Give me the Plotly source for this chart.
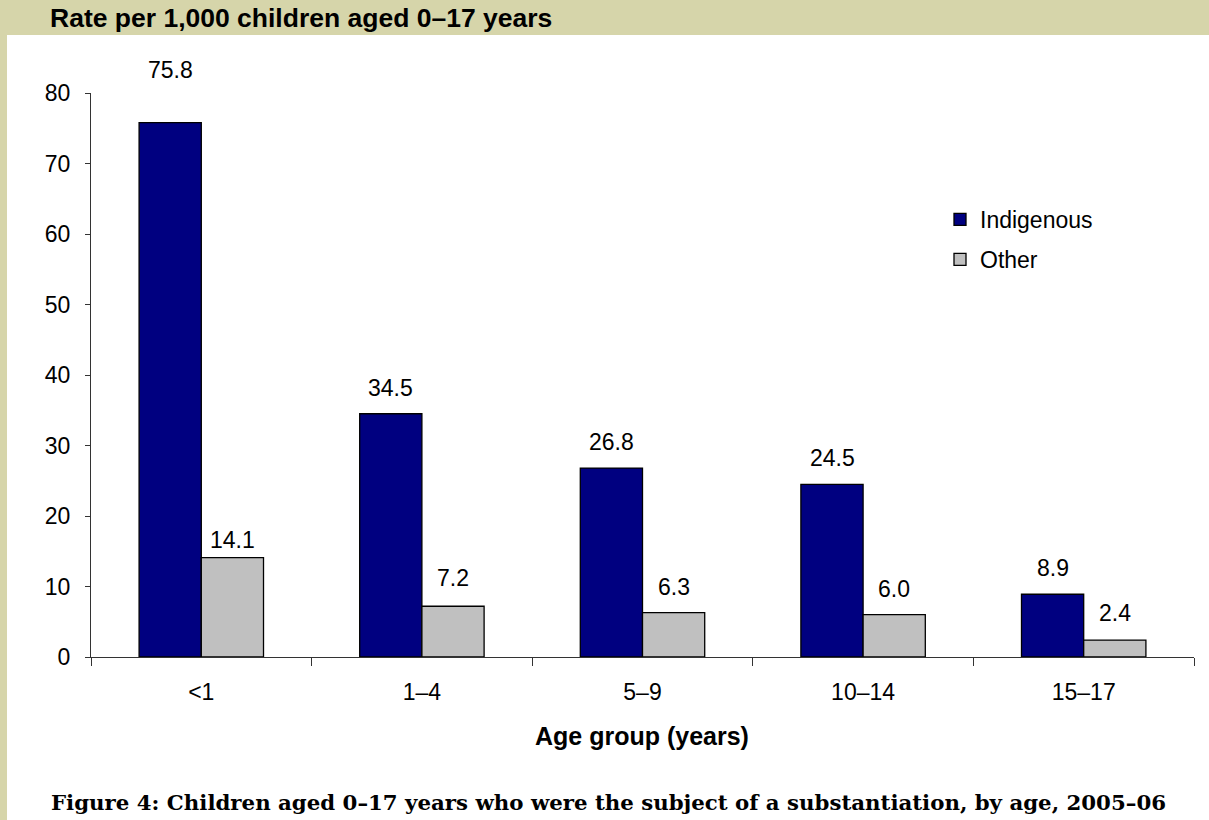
import plotly.graph_objects as go

# Substantiation rates per 1,000 children, 2005-06
age_groups = ["<1", "1–4", "5–9", "10–14", "15–17"]
indigenous = [75.8, 34.5, 26.8, 24.5, 8.9]
other = [14.1, 7.2, 6.3, 6.0, 2.4]
y_ticks = [0, 10, 20, 30, 40, 50, 60, 70, 80]

# vertical gap (px) between each bar top and its value label
lift_indigenous = [53, 26, 26, 26, 26]
lift_other = [18, 28, 26, 26, 27]

SANS = "Liberation Sans, Arial, sans-serif"
SERIF = "DejaVu Serif, Liberation Serif, serif"
BEIGE = "#D6D5AA"
FS = 23

W, H = 1209, 820
ML, MR, MT, MB = 91, 15, 93, 163
pw, ph = W - ML - MR, H - MT - MB


def px_x(px):
    return (px - ML) / pw


def px_y(py):
    return (H - MB - py) / ph


fig = go.Figure()
fig.add_trace(go.Bar(
    name="Indigenous", x=age_groups, y=indigenous, legendgroup="ind",
    marker=dict(color="#000080", line=dict(color="#000000", width=1.3)),
))
fig.add_trace(go.Bar(
    name="Other", x=age_groups, y=other, legendgroup="oth",
    marker=dict(color="#C0C0C0", line=dict(color="#000000", width=1.3)),
))

# value labels above each bar
annotations = []
for series, lifts, shift in ((indigenous, lift_indigenous, -31), (other, lift_other, 31)):
    for cat, val, lift in zip(age_groups, series, lifts):
        annotations.append(dict(
            x=cat, y=val, xref="x", yref="y", text=f"{val:.1f}",
            showarrow=False, xshift=shift, yshift=lift, yanchor="middle",
            font=dict(family=SANS, size=FS, color="#000000"),
        ))

# header text and caption
annotations.append(dict(
    x=px_x(48), y=px_y(18), xref="paper", yref="paper",
    text="<b>Rate per 1,000 children aged 0–17 years</b>",
    showarrow=False, xanchor="left", yanchor="middle",
    font=dict(family=SANS, size=26.5, color="#000000"),
))
annotations.append(dict(
    x=px_x(608), y=px_y(802), xref="paper", yref="paper",
    text="<b>Figure 4: Children aged 0–17 years who were the subject of a substantiation, by age, 2005–06</b>",
    showarrow=False, xanchor="center", yanchor="middle",
    font=dict(family=SERIF, size=21.3, color="#000000"),
))
# x-axis title
annotations.append(dict(
    x=px_x(642), y=px_y(736), xref="paper", yref="paper",
    text="<b>Age group (years)</b>",
    showarrow=False, xanchor="center", yanchor="middle",
    font=dict(family=SANS, size=25, color="#000000"),
))

shapes = [
    # top band
    dict(type="rect", xref="paper", yref="paper", x0=px_x(0), x1=px_x(W), y0=px_y(35), y1=px_y(0),
         fillcolor=BEIGE, line=dict(width=0), layer="below"),
    # left strip
    dict(type="rect", xref="paper", yref="paper", x0=px_x(0), x1=px_x(7), y0=px_y(H), y1=px_y(0),
         fillcolor=BEIGE, line=dict(width=0), layer="below"),
]

fig.update_layout(
    width=W, height=H,
    margin=dict(l=ML, r=MR, t=MT, b=MB),
    paper_bgcolor="#FFFFFF", plot_bgcolor="#FFFFFF",
    barmode="group", bargap=0.436, bargroupgap=0,
    showlegend=True,
    legend=dict(x=px_x(940), y=px_y(198), xanchor="left", yanchor="top",
                font=dict(family=SANS, size=FS, color="#000000"),
                bgcolor="rgba(0,0,0,0)", traceorder="grouped", tracegroupgap=7),
    font=dict(family=SANS, size=FS, color="#000000"),
    annotations=annotations, shapes=shapes,
)
fig.update_xaxes(
    showline=True, linecolor="#333333", linewidth=1,
    ticks="outside", tickson="boundaries", ticklen=8, tickcolor="#333333",
    showgrid=False, ticklabelstandoff=14,
    tickfont=dict(family=SANS, size=FS),
)
fig.update_yaxes(
    range=[0, 80], tickvals=y_ticks, showline=True, linecolor="#333333", linewidth=1,
    ticks="outside", ticklen=5, tickcolor="#333333", showgrid=False, zeroline=False,
    ticklabelstandoff=10,
    tickfont=dict(family=SANS, size=FS),
)

fig.write_html("out.html")
